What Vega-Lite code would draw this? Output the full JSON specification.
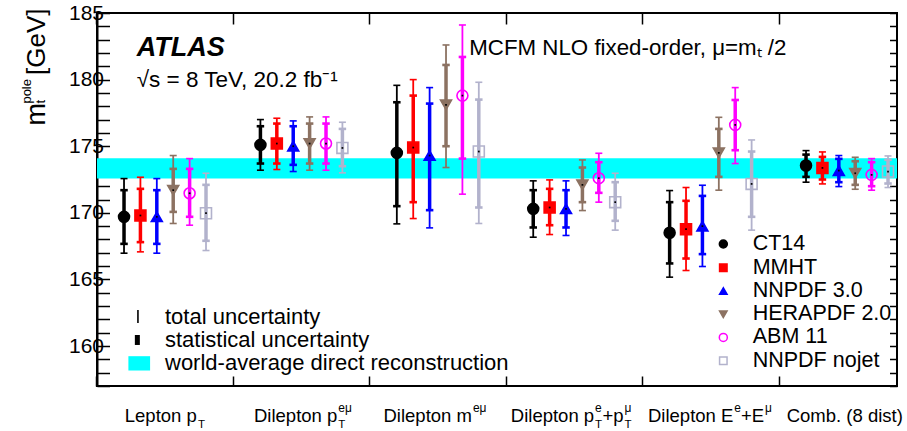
{
  "$schema": "https://vega.github.io/schema/vega-lite/v6.json",
  "width": 800,
  "height": 373,
  "autosize": "none",
  "padding": {"left": 97, "top": 13, "right": 10, "bottom": 45},
  "config": {
    "font": "Liberation Sans",
    "view": {"stroke": "black", "strokeWidth": 2},
    "axis": {"grid": false}
  },
  "data": {
    "values": [
      {"g": "Lepton pT", "pdf": "CT14", "mt": 169.7, "tlo": 166.97, "thi": 172.57, "slo": 167.67, "shi": 171.7},
      {"g": "Lepton pT", "pdf": "MMHT", "mt": 169.8, "tlo": 167.07, "thi": 172.67, "slo": 167.8, "shi": 171.8},
      {"g": "Lepton pT", "pdf": "NNPDF 3.0", "mt": 169.7, "tlo": 166.97, "thi": 172.57, "slo": 167.67, "shi": 171.7},
      {"g": "Lepton pT", "pdf": "HERAPDF 2.0", "mt": 171.7, "tlo": 169.2, "thi": 174.3, "slo": 170.07, "shi": 173.3},
      {"g": "Lepton pT", "pdf": "ABM 11", "mt": 171.47, "tlo": 169.07, "thi": 174.07, "slo": 169.7, "shi": 173.3},
      {"g": "Lepton pT", "pdf": "NNPDF nojet", "mt": 169.97, "tlo": 167.17, "thi": 172.97, "slo": 167.9, "shi": 172.1},
      {"g": "Dilepton pT eμ", "pdf": "CT14", "mt": 175.1, "tlo": 173.2, "thi": 177.0, "slo": 173.7, "shi": 176.5},
      {"g": "Dilepton pT eμ", "pdf": "MMHT", "mt": 175.2, "tlo": 173.25, "thi": 177.1, "slo": 173.7, "shi": 176.7},
      {"g": "Dilepton pT eμ", "pdf": "NNPDF 3.0", "mt": 175.0, "tlo": 173.1, "thi": 176.9, "slo": 173.6, "shi": 176.5},
      {"g": "Dilepton pT eμ", "pdf": "HERAPDF 2.0", "mt": 175.2, "tlo": 173.2, "thi": 177.2, "slo": 173.7, "shi": 176.7},
      {"g": "Dilepton pT eμ", "pdf": "ABM 11", "mt": 175.2, "tlo": 173.2, "thi": 177.2, "slo": 173.7, "shi": 176.7},
      {"g": "Dilepton pT eμ", "pdf": "NNPDF nojet", "mt": 174.87, "tlo": 173.0, "thi": 176.8, "slo": 173.5, "shi": 176.3},
      {"g": "Dilepton m eμ", "pdf": "CT14", "mt": 174.5, "tlo": 169.17, "thi": 179.57, "slo": 170.5, "shi": 178.3},
      {"g": "Dilepton m eμ", "pdf": "MMHT", "mt": 174.9, "tlo": 169.57, "thi": 180.0, "slo": 170.8, "shi": 178.8},
      {"g": "Dilepton m eμ", "pdf": "NNPDF 3.0", "mt": 174.3, "tlo": 168.87, "thi": 179.4, "slo": 170.2, "shi": 178.2},
      {"g": "Dilepton m eμ", "pdf": "HERAPDF 2.0", "mt": 178.1, "tlo": 173.4, "thi": 182.6, "slo": 175.0, "shi": 181.1},
      {"g": "Dilepton m eμ", "pdf": "ABM 11", "mt": 178.8, "tlo": 171.4, "thi": 184.1, "slo": 174.07, "shi": 181.7},
      {"g": "Dilepton m eμ", "pdf": "NNPDF nojet", "mt": 174.6, "tlo": 169.2, "thi": 179.8, "slo": 170.4, "shi": 178.5},
      {"g": "Dilepton pT e+pT μ", "pdf": "CT14", "mt": 170.3, "tlo": 168.17, "thi": 172.4, "slo": 168.9, "shi": 171.7},
      {"g": "Dilepton pT e+pT μ", "pdf": "MMHT", "mt": 170.4, "tlo": 168.37, "thi": 172.47, "slo": 169.07, "shi": 171.8},
      {"g": "Dilepton pT e+pT μ", "pdf": "NNPDF 3.0", "mt": 170.3, "tlo": 168.3, "thi": 172.4, "slo": 168.9, "shi": 171.7},
      {"g": "Dilepton pT e+pT μ", "pdf": "HERAPDF 2.0", "mt": 172.1, "tlo": 170.17, "thi": 173.97, "slo": 170.8, "shi": 173.4},
      {"g": "Dilepton pT e+pT μ", "pdf": "ABM 11", "mt": 172.6, "tlo": 170.8, "thi": 174.47, "slo": 171.5, "shi": 173.8},
      {"g": "Dilepton pT e+pT μ", "pdf": "NNPDF nojet", "mt": 170.8, "tlo": 168.7, "thi": 172.97, "slo": 169.4, "shi": 172.3},
      {"g": "Dilepton E e+E μ", "pdf": "CT14", "mt": 168.5, "tlo": 165.17, "thi": 171.67, "slo": 166.2, "shi": 170.8},
      {"g": "Dilepton E e+E μ", "pdf": "MMHT", "mt": 168.77, "tlo": 165.67, "thi": 171.9, "slo": 166.57, "shi": 170.9},
      {"g": "Dilepton E e+E μ", "pdf": "NNPDF 3.0", "mt": 169.0, "tlo": 165.97, "thi": 172.07, "slo": 166.9, "shi": 171.27},
      {"g": "Dilepton E e+E μ", "pdf": "HERAPDF 2.0", "mt": 174.5, "tlo": 171.7, "thi": 177.17, "slo": 172.7, "shi": 176.3},
      {"g": "Dilepton E e+E μ", "pdf": "ABM 11", "mt": 176.6, "tlo": 173.7, "thi": 179.4, "slo": 174.7, "shi": 178.47},
      {"g": "Dilepton E e+E μ", "pdf": "NNPDF nojet", "mt": 172.17, "tlo": 168.7, "thi": 175.47, "slo": 169.7, "shi": 174.6},
      {"g": "Comb. (8 dist)", "pdf": "CT14", "mt": 173.55, "tlo": 172.3, "thi": 174.67, "slo": 172.7, "shi": 174.37},
      {"g": "Comb. (8 dist)", "pdf": "MMHT", "mt": 173.37, "tlo": 172.17, "thi": 174.57, "slo": 172.5, "shi": 174.2},
      {"g": "Comb. (8 dist)", "pdf": "NNPDF 3.0", "mt": 173.17, "tlo": 171.97, "thi": 174.3, "slo": 172.3, "shi": 174.05},
      {"g": "Comb. (8 dist)", "pdf": "HERAPDF 2.0", "mt": 172.97, "tlo": 171.77, "thi": 174.17, "slo": 172.1, "shi": 173.87},
      {"g": "Comb. (8 dist)", "pdf": "ABM 11", "mt": 172.85, "tlo": 171.7, "thi": 174.07, "slo": 172.0, "shi": 173.8},
      {"g": "Comb. (8 dist)", "pdf": "NNPDF nojet", "mt": 173.1, "tlo": 171.9, "thi": 174.27, "slo": 172.2, "shi": 173.98}
    ]
  },
  "resolve": {"axis": {"x": "independent", "y": "independent"}},
  "layer": [
    {
      "data": {"values": [{"lo": 172.58, "hi": 174.1}]},
      "mark": {"type": "rect", "color": "#00FFFF"},
      "encoding": {
        "y": {"field": "lo", "type": "quantitative", "scale": {"domain": [157, 185], "nice": false, "zero": false}, "axis": null},
        "y2": {"field": "hi"}
      }
    },
    {
      "mark": {"type": "rule", "strokeWidth": 1.8},
      "encoding": {
        "x": {"field": "g", "type": "nominal", "scale": {"domain": ["Lepton pT", "Dilepton pT eμ", "Dilepton m eμ", "Dilepton pT e+pT μ", "Dilepton E e+E μ", "Comb. (8 dist)"], "paddingInner": 0.135, "paddingOuter": 0},
          "axis": {"orient": "bottom", "bandPosition": 0, "tickSize": -10, "tickWidth": 1.5, "tickColor": "black", "labels": false, "domain": false, "title": null, "grid": false}},
        "xOffset": {"field": "pdf", "type": "nominal", "scale": {"domain": ["CT14", "MMHT", "NNPDF 3.0", "HERAPDF 2.0", "ABM 11", "NNPDF nojet"], "paddingInner": 0, "paddingOuter": 0.598, "align": 0.96}},
        "y": {"field": "tlo", "type": "quantitative", "scale": {"domain": [157, 185], "nice": false, "zero": false},
          "axis": {"orient": "left", "values": [157,158,159,160,161,162,163,164,165,166,167,168,169,170,171,172,173,174,175,176,177,178,179,180,181,182,183,184,185], "labelExpr": "datum.value % 5 === 0 ? datum.label : ''", "labelOverlap": false, "labelFlush": false, "tickSize": -12.5, "tickWidth": 1.5, "tickColor": "black", "labelFontSize": 21, "labelColor": "black", "labelPadding": 6, "domain": true, "domainColor": "black", "domainWidth": 2, "title": null, "grid": false,
            "encode": {"ticks": {"update": {"x2": {"signal": "datum.value % 5 === 0 ? 25 : 12.5"}}}}}},
        "y2": {"field": "thi"},
        "color": {"field": "pdf", "type": "nominal", "scale": {"domain": ["CT14", "MMHT", "NNPDF 3.0", "HERAPDF 2.0", "ABM 11", "NNPDF nojet"], "range": ["#000000", "#FF0000", "#0000FF", "#8C7262", "#FF00FF", "#B2B2CC"]}, "legend": null}
      }
    },
    {
      "mark": {"type": "rule", "strokeWidth": 3.5},
      "encoding": {
        "x": {"field": "g", "type": "nominal",
          "axis": {"orient": "top", "bandPosition": 0, "tickSize": -11, "tickWidth": 1.5, "tickColor": "black", "labels": false, "domain": false, "title": null, "grid": false}},
        "xOffset": {"field": "pdf", "type": "nominal"},
        "y": {"field": "slo", "type": "quantitative", "scale": {"domain": [157, 185], "nice": false, "zero": false},
          "axis": {"orient": "right", "values": [157,158,159,160,161,162,163,164,165,166,167,168,169,170,171,172,173,174,175,176,177,178,179,180,181,182,183,184,185], "labels": false, "tickSize": -7.5, "tickWidth": 1.5, "tickColor": "black", "domain": false, "title": null, "grid": false,
            "encode": {"ticks": {"update": {"x2": {"signal": "datum.value % 5 === 0 ? -16 : -7.5"}}}}}},
        "y2": {"field": "shi"},
        "color": {"field": "pdf", "type": "nominal", "legend": null}
      }
    },
    {
      "mark": {"type": "point", "shape": "M-1,0L1,0", "size": 49, "filled": false, "strokeWidth": 1.6, "opacity": 1},
      "encoding": {
        "x": {"field": "g", "type": "nominal", "axis": null},
        "xOffset": {"field": "pdf", "type": "nominal"},
        "y": {"field": "tlo", "type": "quantitative", "scale": {"domain": [157, 185], "nice": false, "zero": false}, "axis": null},
        "color": {"field": "pdf", "type": "nominal", "legend": null}
      }
    },
    {
      "mark": {"type": "point", "shape": "M-1,0L1,0", "size": 49, "filled": false, "strokeWidth": 1.6, "opacity": 1},
      "encoding": {
        "x": {"field": "g", "type": "nominal", "axis": null},
        "xOffset": {"field": "pdf", "type": "nominal"},
        "y": {"field": "thi", "type": "quantitative", "scale": {"domain": [157, 185], "nice": false, "zero": false}, "axis": null},
        "color": {"field": "pdf", "type": "nominal", "legend": null}
      }
    },
    {
      "mark": {"type": "point", "shape": "M-1,0L1,0", "size": 56, "filled": false, "strokeWidth": 2.6, "opacity": 1},
      "encoding": {
        "x": {"field": "g", "type": "nominal", "axis": null},
        "xOffset": {"field": "pdf", "type": "nominal"},
        "y": {"field": "slo", "type": "quantitative", "scale": {"domain": [157, 185], "nice": false, "zero": false}, "axis": null},
        "color": {"field": "pdf", "type": "nominal", "legend": null}
      }
    },
    {
      "mark": {"type": "point", "shape": "M-1,0L1,0", "size": 56, "filled": false, "strokeWidth": 2.6, "opacity": 1},
      "encoding": {
        "x": {"field": "g", "type": "nominal", "axis": null},
        "xOffset": {"field": "pdf", "type": "nominal"},
        "y": {"field": "shi", "type": "quantitative", "scale": {"domain": [157, 185], "nice": false, "zero": false}, "axis": null},
        "color": {"field": "pdf", "type": "nominal", "legend": null}
      }
    },
    {
      "mark": {"type": "point", "size": 120, "strokeWidth": 1.6, "opacity": 1},
      "encoding": {
        "x": {"field": "g", "type": "nominal", "axis": null},
        "xOffset": {"field": "pdf", "type": "nominal"},
        "y": {"field": "mt", "type": "quantitative", "scale": {"domain": [157, 185], "nice": false, "zero": false}, "axis": null},
        "shape": {"field": "pdf", "type": "nominal", "scale": {"domain": ["CT14", "MMHT", "NNPDF 3.0", "HERAPDF 2.0", "ABM 11", "NNPDF nojet"], "range": ["circle", "square", "triangle-up", "triangle-down", "circle", "square"]}, "legend": null},
        "fill": {"field": "pdf", "type": "nominal", "scale": {"domain": ["CT14", "MMHT", "NNPDF 3.0", "HERAPDF 2.0", "ABM 11", "NNPDF nojet"], "range": ["#000000", "#FF0000", "#0000FF", "#8C7262", "transparent", "transparent"]}, "legend": null},
        "stroke": {"field": "pdf", "type": "nominal", "scale": {"domain": ["CT14", "MMHT", "NNPDF 3.0", "HERAPDF 2.0", "ABM 11", "NNPDF nojet"], "range": ["#000000", "#FF0000", "#0000FF", "#8C7262", "#FF00FF", "#B2B2CC"]}, "legend": null}
      }
    },
    {
      "mark": {"type": "point", "shape": "square", "size": 3, "filled": true, "color": "black", "opacity": 1},
      "encoding": {
        "x": {"field": "g", "type": "nominal", "axis": null},
        "xOffset": {"field": "pdf", "type": "nominal"},
        "y": {"field": "mt", "type": "quantitative", "scale": {"domain": [157, 185], "nice": false, "zero": false}, "axis": null}
      }
    },
    {"data": {"values": [{"pdf": "CT14"}]}, "mark": {"type": "point", "size": 64, "strokeWidth": 1.5, "opacity": 1},
      "encoding": {"x": {"datum": "Dilepton E e+E μ", "type": "nominal", "bandPosition": 0.684, "axis": null}, "y": {"datum": 167.66, "type": "quantitative", "scale": {"domain": [157, 185], "nice": false, "zero": false}, "axis": null},
        "shape": {"field": "pdf", "type": "nominal", "legend": null}, "fill": {"field": "pdf", "type": "nominal", "legend": null}, "stroke": {"field": "pdf", "type": "nominal", "legend": null}}},
    {"data": {"values": [{"pdf": "MMHT"}]}, "mark": {"type": "point", "size": 56, "strokeWidth": 1.5, "opacity": 1},
      "encoding": {"x": {"datum": "Dilepton E e+E μ", "type": "nominal", "bandPosition": 0.684, "axis": null}, "y": {"datum": 165.88, "type": "quantitative", "scale": {"domain": [157, 185], "nice": false, "zero": false}, "axis": null},
        "shape": {"field": "pdf", "type": "nominal", "legend": null}, "fill": {"field": "pdf", "type": "nominal", "legend": null}, "stroke": {"field": "pdf", "type": "nominal", "legend": null}}},
    {"data": {"values": [{"pdf": "NNPDF 3.0"}]}, "mark": {"type": "point", "size": 56, "strokeWidth": 1.5, "opacity": 1},
      "encoding": {"x": {"datum": "Dilepton E e+E μ", "type": "nominal", "bandPosition": 0.684, "axis": null}, "y": {"datum": 164.13, "type": "quantitative", "scale": {"domain": [157, 185], "nice": false, "zero": false}, "axis": null},
        "shape": {"field": "pdf", "type": "nominal", "legend": null}, "fill": {"field": "pdf", "type": "nominal", "legend": null}, "stroke": {"field": "pdf", "type": "nominal", "legend": null}}},
    {"data": {"values": [{"pdf": "HERAPDF 2.0"}]}, "mark": {"type": "point", "size": 56, "strokeWidth": 1.5, "opacity": 1},
      "encoding": {"x": {"datum": "Dilepton E e+E μ", "type": "nominal", "bandPosition": 0.684, "axis": null}, "y": {"datum": 162.38, "type": "quantitative", "scale": {"domain": [157, 185], "nice": false, "zero": false}, "axis": null},
        "shape": {"field": "pdf", "type": "nominal", "legend": null}, "fill": {"field": "pdf", "type": "nominal", "legend": null}, "stroke": {"field": "pdf", "type": "nominal", "legend": null}}},
    {"data": {"values": [{"pdf": "ABM 11"}]}, "mark": {"type": "point", "size": 64, "strokeWidth": 1.5, "opacity": 1},
      "encoding": {"x": {"datum": "Dilepton E e+E μ", "type": "nominal", "bandPosition": 0.684, "axis": null}, "y": {"datum": 160.65, "type": "quantitative", "scale": {"domain": [157, 185], "nice": false, "zero": false}, "axis": null},
        "shape": {"field": "pdf", "type": "nominal", "legend": null}, "fill": {"field": "pdf", "type": "nominal", "legend": null}, "stroke": {"field": "pdf", "type": "nominal", "legend": null}}},
    {"data": {"values": [{"pdf": "NNPDF nojet"}]}, "mark": {"type": "point", "size": 56, "strokeWidth": 1.5, "opacity": 1},
      "encoding": {"x": {"datum": "Dilepton E e+E μ", "type": "nominal", "bandPosition": 0.684, "axis": null}, "y": {"datum": 158.9, "type": "quantitative", "scale": {"domain": [157, 185], "nice": false, "zero": false}, "axis": null},
        "shape": {"field": "pdf", "type": "nominal", "legend": null}, "fill": {"field": "pdf", "type": "nominal", "legend": null}, "stroke": {"field": "pdf", "type": "nominal", "legend": null}}},
    {"data": {"values": [{"g": "Dilepton E e+E μ", "t": "CT14"}]}, "mark": {"type": "text", "align": "left", "baseline": "middle", "dx": 51.1, "fontSize": 21.5, "color": "black"},
      "encoding": {"x": {"field": "g", "type": "nominal", "axis": null}, "y": {"datum": 167.66, "type": "quantitative", "scale": {"domain": [157, 185], "nice": false, "zero": false}, "axis": null}, "text": {"field": "t"}}},
    {"data": {"values": [{"g": "Dilepton E e+E μ", "t": "MMHT"}]}, "mark": {"type": "text", "align": "left", "baseline": "middle", "dx": 51.1, "fontSize": 21.5, "color": "black"},
      "encoding": {"x": {"field": "g", "type": "nominal", "axis": null}, "y": {"datum": 165.88, "type": "quantitative", "scale": {"domain": [157, 185], "nice": false, "zero": false}, "axis": null}, "text": {"field": "t"}}},
    {"data": {"values": [{"g": "Dilepton E e+E μ", "t": "NNPDF 3.0"}]}, "mark": {"type": "text", "align": "left", "baseline": "middle", "dx": 51.1, "fontSize": 21.5, "color": "black"},
      "encoding": {"x": {"field": "g", "type": "nominal", "axis": null}, "y": {"datum": 164.13, "type": "quantitative", "scale": {"domain": [157, 185], "nice": false, "zero": false}, "axis": null}, "text": {"field": "t"}}},
    {"data": {"values": [{"g": "Dilepton E e+E μ", "t": "HERAPDF 2.0"}]}, "mark": {"type": "text", "align": "left", "baseline": "middle", "dx": 51.1, "fontSize": 21.5, "color": "black"},
      "encoding": {"x": {"field": "g", "type": "nominal", "axis": null}, "y": {"datum": 162.38, "type": "quantitative", "scale": {"domain": [157, 185], "nice": false, "zero": false}, "axis": null}, "text": {"field": "t"}}},
    {"data": {"values": [{"g": "Dilepton E e+E μ", "t": "ABM 11"}]}, "mark": {"type": "text", "align": "left", "baseline": "middle", "dx": 51.1, "fontSize": 21.5, "color": "black"},
      "encoding": {"x": {"field": "g", "type": "nominal", "axis": null}, "y": {"datum": 160.65, "type": "quantitative", "scale": {"domain": [157, 185], "nice": false, "zero": false}, "axis": null}, "text": {"field": "t"}}},
    {"data": {"values": [{"g": "Dilepton E e+E μ", "t": "NNPDF nojet"}]}, "mark": {"type": "text", "align": "left", "baseline": "middle", "dx": 51.1, "fontSize": 21.5, "color": "black"},
      "encoding": {"x": {"field": "g", "type": "nominal", "axis": null}, "y": {"datum": 158.9, "type": "quantitative", "scale": {"domain": [157, 185], "nice": false, "zero": false}, "axis": null}, "text": {"field": "t"}}},
    {
      "data": {"values": [{"g": "Lepton pT", "t": "Lepton p"}]},
      "mark": {"type": "text", "align": "left", "dx": -31.2, "fontSize": 18.5, "color": "black"},
      "encoding": {"x": {"field": "g", "type": "nominal", "axis": null}, "y": {"datum": 154.75, "type": "quantitative", "scale": {"domain": [157, 185], "nice": false, "zero": false}, "axis": null}, "text": {"field": "t"}}
    },
    {
      "data": {"values": [{"g": "Lepton pT", "t": "T"}]},
      "mark": {"type": "text", "align": "left", "dx": 41.9, "dy": 9, "fontSize": 11.5, "color": "black"},
      "encoding": {"x": {"field": "g", "type": "nominal", "axis": null}, "y": {"datum": 154.75, "type": "quantitative", "scale": {"domain": [157, 185], "nice": false, "zero": false}, "axis": null}, "text": {"field": "t"}}
    },
    {
      "data": {"values": [{"g": "Dilepton pT eμ", "t": "Dilepton p"}]},
      "mark": {"type": "text", "align": "left", "dx": -38.4, "fontSize": 18.5, "color": "black"},
      "encoding": {"x": {"field": "g", "type": "nominal", "axis": null}, "y": {"datum": 154.75, "type": "quantitative", "scale": {"domain": [157, 185], "nice": false, "zero": false}, "axis": null}, "text": {"field": "t"}}
    },
    {
      "data": {"values": [{"g": "Dilepton pT eμ", "t": "eμ"}]},
      "mark": {"type": "text", "align": "left", "dx": 45.9, "dy": -8, "fontSize": 12, "color": "black"},
      "encoding": {"x": {"field": "g", "type": "nominal", "axis": null}, "y": {"datum": 154.75, "type": "quantitative", "scale": {"domain": [157, 185], "nice": false, "zero": false}, "axis": null}, "text": {"field": "t"}}
    },
    {
      "data": {"values": [{"g": "Dilepton pT eμ", "t": "T"}]},
      "mark": {"type": "text", "align": "left", "dx": 45.9, "dy": 9, "fontSize": 11.5, "color": "black"},
      "encoding": {"x": {"field": "g", "type": "nominal", "axis": null}, "y": {"datum": 154.75, "type": "quantitative", "scale": {"domain": [157, 185], "nice": false, "zero": false}, "axis": null}, "text": {"field": "t"}}
    },
    {
      "data": {"values": [{"g": "Dilepton m eμ", "t": "Dilepton m"}]},
      "mark": {"type": "text", "align": "left", "dx": -45.3, "fontSize": 18.5, "color": "black"},
      "encoding": {"x": {"field": "g", "type": "nominal", "axis": null}, "y": {"datum": 154.75, "type": "quantitative", "scale": {"domain": [157, 185], "nice": false, "zero": false}, "axis": null}, "text": {"field": "t"}}
    },
    {
      "data": {"values": [{"g": "Dilepton m eμ", "t": "eμ"}]},
      "mark": {"type": "text", "align": "left", "dx": 44.1, "dy": -8, "fontSize": 12, "color": "black"},
      "encoding": {"x": {"field": "g", "type": "nominal", "axis": null}, "y": {"datum": 154.75, "type": "quantitative", "scale": {"domain": [157, 185], "nice": false, "zero": false}, "axis": null}, "text": {"field": "t"}}
    },
    {
      "data": {"values": [{"g": "Dilepton pT e+pT μ", "t": "Dilepton p"}]},
      "mark": {"type": "text", "align": "left", "dx": -54.4, "fontSize": 18.5, "color": "black"},
      "encoding": {"x": {"field": "g", "type": "nominal", "axis": null}, "y": {"datum": 154.75, "type": "quantitative", "scale": {"domain": [157, 185], "nice": false, "zero": false}, "axis": null}, "text": {"field": "t"}}
    },
    {
      "data": {"values": [{"g": "Dilepton pT e+pT μ", "t": "e"}]},
      "mark": {"type": "text", "align": "left", "dx": 29.9, "dy": -8, "fontSize": 12, "color": "black"},
      "encoding": {"x": {"field": "g", "type": "nominal", "axis": null}, "y": {"datum": 154.75, "type": "quantitative", "scale": {"domain": [157, 185], "nice": false, "zero": false}, "axis": null}, "text": {"field": "t"}}
    },
    {
      "data": {"values": [{"g": "Dilepton pT e+pT μ", "t": "T"}]},
      "mark": {"type": "text", "align": "left", "dx": 29.9, "dy": 9, "fontSize": 11.5, "color": "black"},
      "encoding": {"x": {"field": "g", "type": "nominal", "axis": null}, "y": {"datum": 154.75, "type": "quantitative", "scale": {"domain": [157, 185], "nice": false, "zero": false}, "axis": null}, "text": {"field": "t"}}
    },
    {
      "data": {"values": [{"g": "Dilepton pT e+pT μ", "t": "+p"}]},
      "mark": {"type": "text", "align": "left", "dx": 37.2, "fontSize": 18.5, "color": "black"},
      "encoding": {"x": {"field": "g", "type": "nominal", "axis": null}, "y": {"datum": 154.75, "type": "quantitative", "scale": {"domain": [157, 185], "nice": false, "zero": false}, "axis": null}, "text": {"field": "t"}}
    },
    {
      "data": {"values": [{"g": "Dilepton pT e+pT μ", "t": "μ"}]},
      "mark": {"type": "text", "align": "left", "dx": 59.3, "dy": -8, "fontSize": 12, "color": "black"},
      "encoding": {"x": {"field": "g", "type": "nominal", "axis": null}, "y": {"datum": 154.75, "type": "quantitative", "scale": {"domain": [157, 185], "nice": false, "zero": false}, "axis": null}, "text": {"field": "t"}}
    },
    {
      "data": {"values": [{"g": "Dilepton pT e+pT μ", "t": "T"}]},
      "mark": {"type": "text", "align": "left", "dx": 59.3, "dy": 9, "fontSize": 11.5, "color": "black"},
      "encoding": {"x": {"field": "g", "type": "nominal", "axis": null}, "y": {"datum": 154.75, "type": "quantitative", "scale": {"domain": [157, 185], "nice": false, "zero": false}, "axis": null}, "text": {"field": "t"}}
    },
    {
      "data": {"values": [{"g": "Dilepton E e+E μ", "t": "Dilepton E"}]},
      "mark": {"type": "text", "align": "left", "dx": -53.6, "fontSize": 18.5, "color": "black"},
      "encoding": {"x": {"field": "g", "type": "nominal", "axis": null}, "y": {"datum": 154.75, "type": "quantitative", "scale": {"domain": [157, 185], "nice": false, "zero": false}, "axis": null}, "text": {"field": "t"}}
    },
    {
      "data": {"values": [{"g": "Dilepton E e+E μ", "t": "e"}]},
      "mark": {"type": "text", "align": "left", "dx": 32.7, "dy": -8, "fontSize": 12, "color": "black"},
      "encoding": {"x": {"field": "g", "type": "nominal", "axis": null}, "y": {"datum": 154.75, "type": "quantitative", "scale": {"domain": [157, 185], "nice": false, "zero": false}, "axis": null}, "text": {"field": "t"}}
    },
    {
      "data": {"values": [{"g": "Dilepton E e+E μ", "t": "+E"}]},
      "mark": {"type": "text", "align": "left", "dx": 39.4, "fontSize": 18.5, "color": "black"},
      "encoding": {"x": {"field": "g", "type": "nominal", "axis": null}, "y": {"datum": 154.75, "type": "quantitative", "scale": {"domain": [157, 185], "nice": false, "zero": false}, "axis": null}, "text": {"field": "t"}}
    },
    {
      "data": {"values": [{"g": "Dilepton E e+E μ", "t": "μ"}]},
      "mark": {"type": "text", "align": "left", "dx": 63.5, "dy": -8, "fontSize": 12, "color": "black"},
      "encoding": {"x": {"field": "g", "type": "nominal", "axis": null}, "y": {"datum": 154.75, "type": "quantitative", "scale": {"domain": [157, 185], "nice": false, "zero": false}, "axis": null}, "text": {"field": "t"}}
    },
    {
      "data": {"values": [{"g": "Comb. (8 dist)", "t": "Comb. (8 dist)"}]},
      "mark": {"type": "text", "align": "left", "dx": -51.3, "fontSize": 18.5, "color": "black"},
      "encoding": {"x": {"field": "g", "type": "nominal", "axis": null}, "y": {"datum": 154.75, "type": "quantitative", "scale": {"domain": [157, 185], "nice": false, "zero": false}, "axis": null}, "text": {"field": "t"}}
    },
    {
      "data": {"values": [{"g": "Lepton pT", "t": "m"}]},
      "mark": {"type": "text", "align": "left", "angle": 270, "dy": -119, "fontSize": 27, "color": "black"},
      "encoding": {"x": {"field": "g", "type": "nominal", "axis": null}, "y": {"datum": 176.55, "type": "quantitative", "scale": {"domain": [157, 185], "nice": false, "zero": false}, "axis": null}, "text": {"field": "t"}}
    },
    {
      "data": {"values": [{"g": "Lepton pT", "t": "pole"}]},
      "mark": {"type": "text", "align": "left", "angle": 270, "dy": -129, "fontSize": 13, "color": "black"},
      "encoding": {"x": {"field": "g", "type": "nominal", "axis": null}, "y": {"datum": 178.2, "type": "quantitative", "scale": {"domain": [157, 185], "nice": false, "zero": false}, "axis": null}, "text": {"field": "t"}}
    },
    {
      "data": {"values": [{"g": "Lepton pT", "t": "t"}]},
      "mark": {"type": "text", "align": "left", "angle": 270, "dy": -115, "fontSize": 13, "color": "black"},
      "encoding": {"x": {"field": "g", "type": "nominal", "axis": null}, "y": {"datum": 178.2, "type": "quantitative", "scale": {"domain": [157, 185], "nice": false, "zero": false}, "axis": null}, "text": {"field": "t"}}
    },
    {
      "data": {"values": [{"g": "Lepton pT", "t": "[GeV]"}]},
      "mark": {"type": "text", "align": "left", "angle": 270, "dy": -119, "fontSize": 26, "color": "black"},
      "encoding": {"x": {"field": "g", "type": "nominal", "axis": null}, "y": {"datum": 180.35, "type": "quantitative", "scale": {"domain": [157, 185], "nice": false, "zero": false}, "axis": null}, "text": {"field": "t"}}
    },
    {
      "data": {"values": [{"g": "Lepton pT", "t": "ATLAS"}]},
      "mark": {"type": "text", "align": "left", "dx": -19.3, "fontSize": 27, "fontWeight": "bold", "fontStyle": "italic", "color": "black"},
      "encoding": {"x": {"field": "g", "type": "nominal", "axis": null}, "y": {"datum": 182.35, "type": "quantitative", "scale": {"domain": [157, 185], "nice": false, "zero": false}, "axis": null}, "text": {"field": "t"}}
    },
    {
      "data": {"values": [{"g": "Lepton pT", "t": "√s = 8 TeV, 20.2 fb⁻¹"}]},
      "mark": {"type": "text", "align": "left", "dx": -19.3, "fontSize": 22.5, "color": "black"},
      "encoding": {"x": {"field": "g", "type": "nominal", "axis": null}, "y": {"datum": 179.97, "type": "quantitative", "scale": {"domain": [157, 185], "nice": false, "zero": false}, "axis": null}, "text": {"field": "t"}}
    },
    {
      "data": {"values": [{"g": "Dilepton m eμ", "t": "MCFM NLO fixed-order, μ=mₜ /2"}]},
      "mark": {"type": "text", "align": "left", "dx": 40.5, "fontSize": 22.3, "color": "black"},
      "encoding": {"x": {"field": "g", "type": "nominal", "axis": null}, "y": {"datum": 182.39, "type": "quantitative", "scale": {"domain": [157, 185], "nice": false, "zero": false}, "axis": null}, "text": {"field": "t"}}
    },
    {
      "data": {"values": [{"g": "Lepton pT", "t": "total uncertainty"}]},
      "mark": {"type": "text", "align": "left", "baseline": "middle", "dx": 9, "fontSize": 22, "color": "black"},
      "encoding": {"x": {"field": "g", "type": "nominal", "axis": null}, "y": {"datum": 162.2, "type": "quantitative", "scale": {"domain": [157, 185], "nice": false, "zero": false}, "axis": null}, "text": {"field": "t"}}
    },
    {
      "data": {"values": [{"g": "Lepton pT", "t": "statistical uncertainty"}]},
      "mark": {"type": "text", "align": "left", "baseline": "middle", "dx": 9, "fontSize": 22, "color": "black"},
      "encoding": {"x": {"field": "g", "type": "nominal", "axis": null}, "y": {"datum": 160.45, "type": "quantitative", "scale": {"domain": [157, 185], "nice": false, "zero": false}, "axis": null}, "text": {"field": "t"}}
    },
    {
      "data": {"values": [{"g": "Lepton pT", "t": "world-average direct reconstruction"}]},
      "mark": {"type": "text", "align": "left", "baseline": "middle", "dx": 9, "fontSize": 22, "color": "black"},
      "encoding": {"x": {"field": "g", "type": "nominal", "axis": null}, "y": {"datum": 158.7, "type": "quantitative", "scale": {"domain": [157, 185], "nice": false, "zero": false}, "axis": null}, "text": {"field": "t"}}
    },
    {
      "data": {"values": [{"k": "total uncertainty"}]},
      "mark": {"type": "rule", "strokeWidth": 1.6, "color": "black"},
      "encoding": {"x": {"datum": "Lepton pT", "type": "nominal", "bandPosition": 0.347, "axis": null}, "y": {"datum": 161.73, "type": "quantitative", "scale": {"domain": [157, 185], "nice": false, "zero": false}, "axis": null}, "y2": {"datum": 162.7}}
    },
    {
      "data": {"values": [{"k": "statistical uncertainty"}]},
      "mark": {"type": "rule", "strokeWidth": 5, "color": "black"},
      "encoding": {"x": {"datum": "Lepton pT", "type": "nominal", "bandPosition": 0.342, "axis": null}, "y": {"datum": 160.08, "type": "quantitative", "scale": {"domain": [157, 185], "nice": false, "zero": false}, "axis": null}, "y2": {"datum": 160.83}}
    },
    {
      "data": {"values": [{"k": "world-average direct reconstruction"}]},
      "mark": {"type": "point", "shape": "M-1,-0.66L1,-0.66L1,0.66L-1,0.66Z", "size": 471, "filled": true, "color": "#00FFFF", "opacity": 1},
      "encoding": {"x": {"datum": "Lepton pT", "type": "nominal", "bandPosition": 0.358, "axis": null}, "y": {"datum": 158.7, "type": "quantitative", "scale": {"domain": [157, 185], "nice": false, "zero": false}, "axis": null}}
    }
  ]
}
